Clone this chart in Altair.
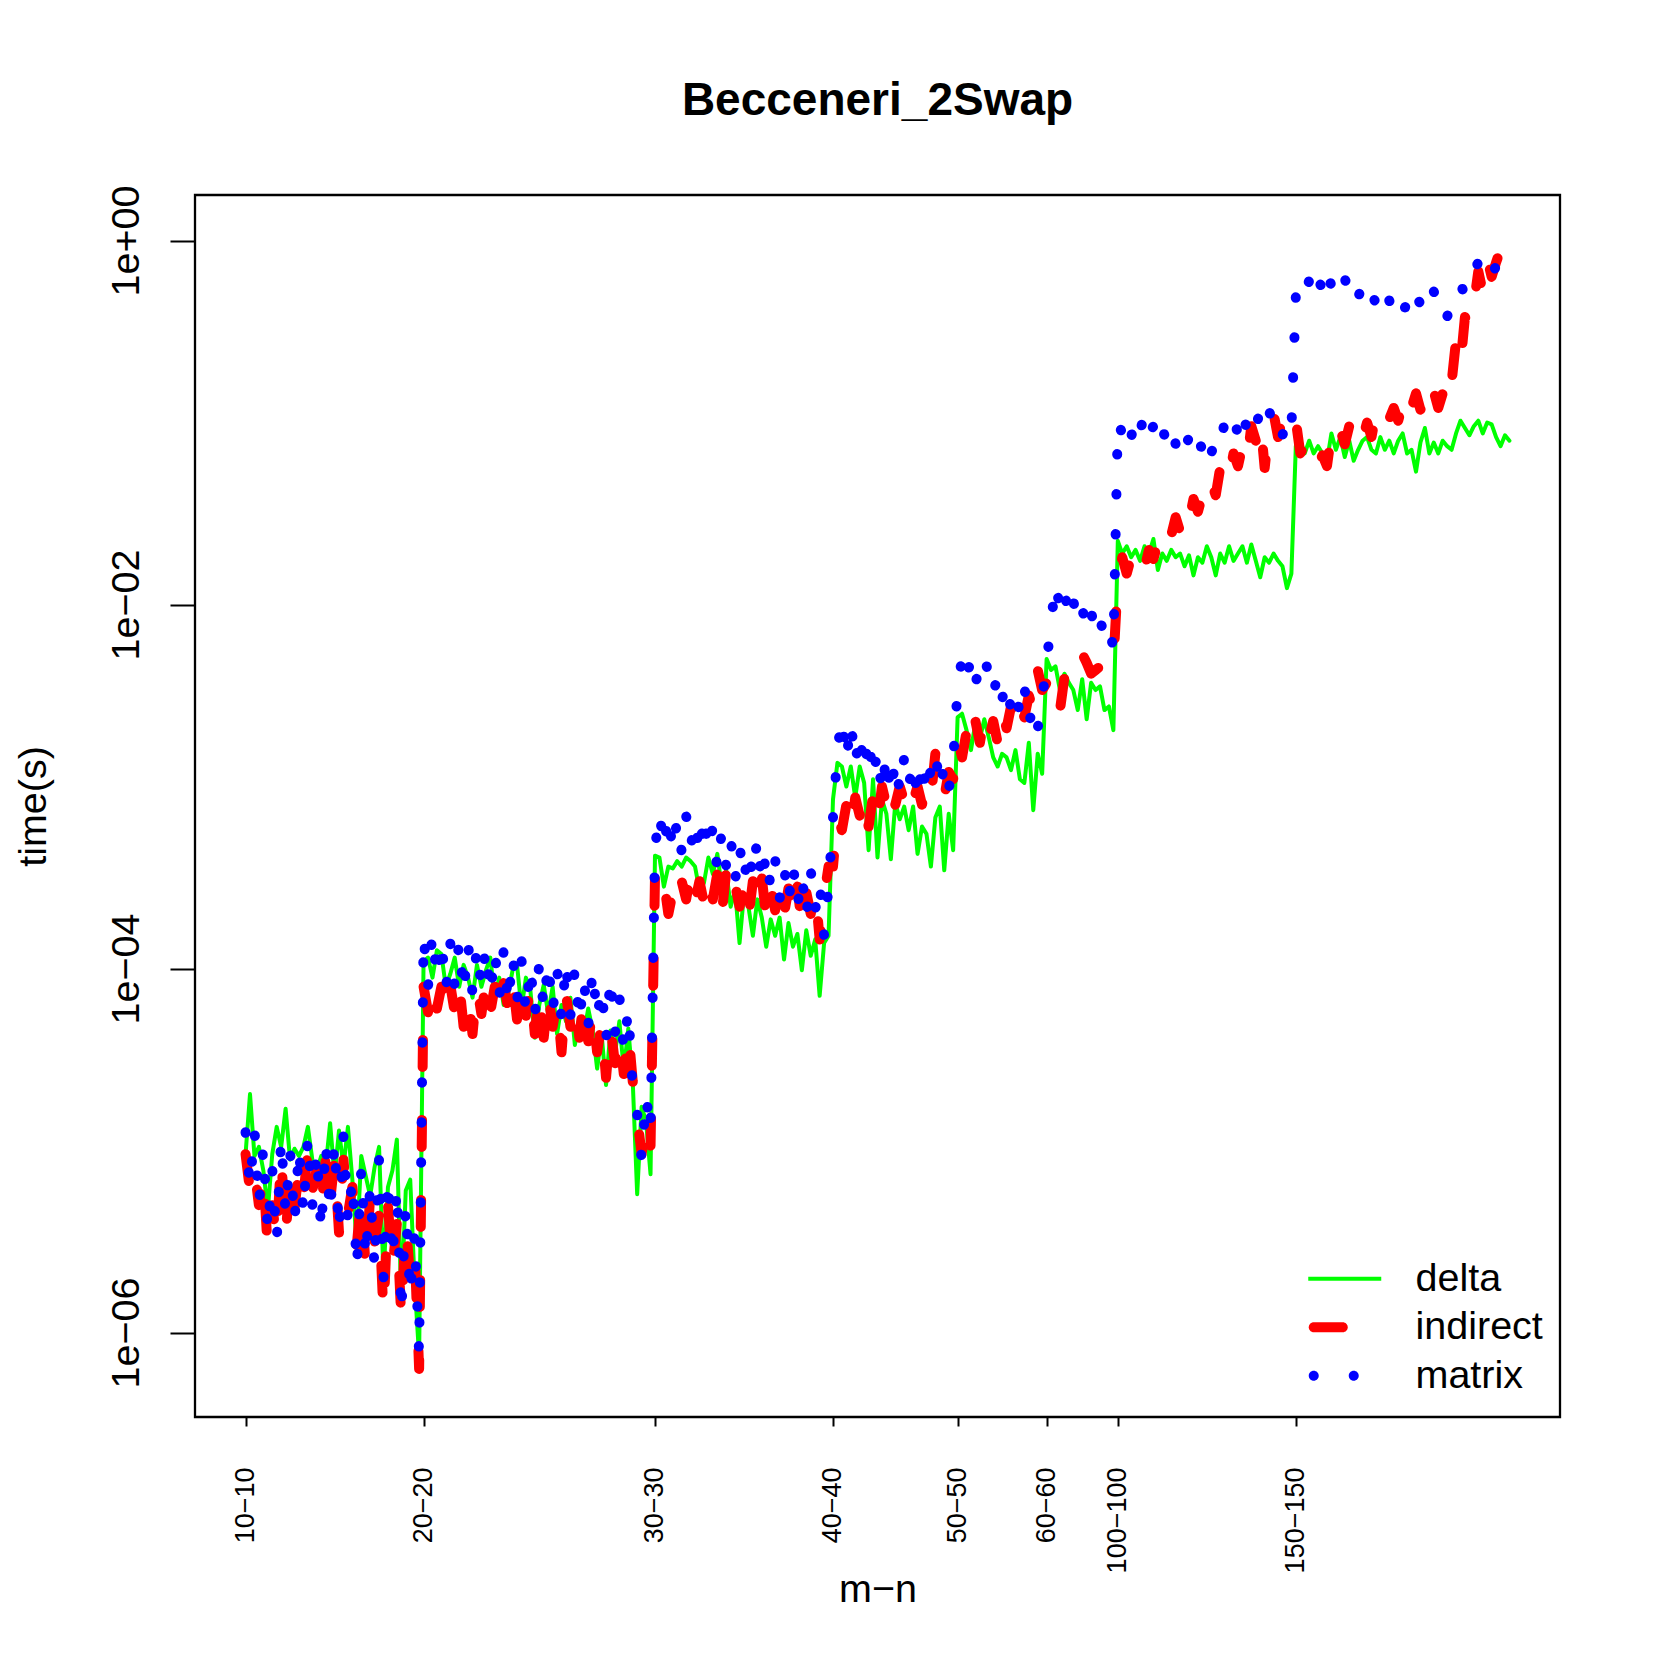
import altair as alt
import pandas as pd

# ---------------- data (log10 of time in seconds) ----------------
x_tick_vals = [0, 40, 92, 132, 160, 180, 196, 236]
x_tick_labels = ["10\u221210", "20\u221220", "30\u221230", "40\u221240", "50\u221250",
                 "60\u221260", "100\u2212100", "150\u2212150"]
y_tick_vals = [1e-6, 1e-4, 1e-2, 1.0]
y_tick_labels = ["1e\u221206", "1e\u221204", "1e\u221202", "1e+00"]
series_names = ["delta", "indirect", "matrix"]
series_colors = ["#00ff00", "#ff0000", "#0000ff"]

delta_log = [
    # 10-10 .. 20-20
    -5.02, -4.69, -5.03, -4.98, -5.11, -5.33, -5.02, -4.87, -4.98, -4.77,
    -5.05, -4.99, -5.03, -4.98, -4.87, -5.05, -5.11, -5.03, -5.09, -4.85,
    -5.14, -4.89, -5.09, -4.87, -5.16, -5.53, -5.03, -5.14, -5.25, -5.09,
    -4.98, -5.69, -5.20, -5.11, -4.94, -5.84, -5.22, -5.16, -5.73, -6.13,
    # 20-20 .. 30-30
    -3.96, -3.94, -4.05, -3.90, -3.92, -4.10, -4.03, -3.94, -4.10, -3.98,
    -4.05, -4.16, -3.98, -4.10, -4.01, -3.94, -4.16, -4.05, -4.20, -4.14,
    -4.01, -3.98, -4.22, -4.05, -4.12, -4.38, -4.20, -4.09, -4.25, -4.10,
    -4.36, -4.20, -4.29, -4.16, -4.42, -4.27, -4.36, -4.22, -4.34, -4.55,
    -4.36, -4.64, -4.34, -4.47, -4.29, -4.56, -4.33, -4.62, -5.24, -4.76,
    -4.84, -5.13,
    # 30-30 .. 40-40
    -3.38, -3.39, -3.55, -3.44, -3.45, -3.41, -3.44, -3.39, -3.41, -3.44,
    -3.57, -3.53, -3.39, -3.48, -3.37, -3.55, -3.46, -3.66, -3.57, -3.86,
    -3.59, -3.66, -3.82, -3.62, -3.72, -3.88, -3.73, -3.82, -3.72, -3.95,
    -3.75, -3.88, -3.81, -4.01, -3.79, -3.93, -3.84, -4.15, -3.86, -3.82,
    # 40-40 .. 50-50
    -3.07, -2.87, -2.89, -3.00, -2.89, -3.06, -2.89, -2.98, -3.35, -2.96,
    -3.39, -3.07, -3.15, -3.40, -3.09, -3.18, -3.11, -3.24, -3.11, -3.37,
    -3.22, -3.26, -3.44, -3.17, -3.11, -3.46, -3.15, -3.35,
    # 50-50 .. 60-60
    -2.62, -2.60, -2.69, -2.80, -2.65, -2.74, -2.63, -2.73, -2.84, -2.89,
    -2.82, -2.84, -2.91, -2.80, -2.96, -2.98, -2.76, -3.13, -2.82, -2.93,
    # 60-60 .. 100-100
    -2.30, -2.36, -2.34, -2.47, -2.38, -2.43, -2.47, -2.58, -2.41, -2.63,
    -2.43, -2.47, -2.45, -2.58, -2.56, -2.69,
    # 100-100 .. 150-150
    -1.65, -1.72, -1.68, -1.74, -1.70, -1.76, -1.68, -1.72, -1.64, -1.81,
    -1.72, -1.76, -1.70, -1.74, -1.72, -1.79, -1.73, -1.84, -1.74, -1.77,
    -1.68, -1.74, -1.84, -1.72, -1.77, -1.68, -1.76, -1.72, -1.68, -1.77,
    -1.67, -1.76, -1.85, -1.74, -1.77, -1.72, -1.76, -1.79, -1.91, -1.83,
    # 150-150 .. end
    -1.13, -1.10, -1.17, -1.10, -1.17, -1.13, -1.17, -1.21, -1.06, -1.15,
    -1.08, -1.19, -1.10, -1.21, -1.15, -1.10, -1.08, -1.15, -1.17, -1.08,
    -1.15, -1.10, -1.17, -1.10, -1.06, -1.17, -1.15, -1.27, -1.11, -1.03,
    -1.17, -1.11, -1.17, -1.10, -1.13, -1.15, -1.06, -0.99, -1.03, -1.07,
    -1.02, -0.99, -1.06, -1.00, -1.01, -1.08, -1.13, -1.07, -1.10,
]

indirect_log = [
    # 10-10 .. 20-20
    -5.02, -5.22, -5.10, -5.30, -5.12, -5.55, -5.30, -5.50, -5.02, -5.48,
    -5.12, -5.32, -5.10, -5.25, -5.00, -5.22, -5.10, -5.32, -5.05, -5.28,
    -5.05, -5.45, -5.05, -5.35, -5.20, -5.52, -5.25, -5.65, -5.25, -5.50,
    -5.35, -5.90, -5.30, -5.65, -5.40, -5.92, -5.40, -5.70, -5.55, -6.20,
    # 20-20 .. 30-30
    -4.10, -4.24, -4.08, -4.22, -4.10, -4.26, -4.09, -4.24, -4.08, -4.32,
    -4.15, -4.36, -4.10, -4.25, -4.07, -4.24, -4.10, -4.27, -4.08, -4.22,
    -4.06, -4.28, -4.08, -4.26, -4.10, -4.36, -4.12, -4.38, -4.14, -4.32,
    -4.18, -4.46, -4.14, -4.32, -4.18, -4.38, -4.16, -4.40, -4.22, -4.46,
    -4.30, -4.60, -4.32, -4.52, -4.36, -4.58, -4.34, -4.62, -4.82, -5.02,
    -4.84, -4.98,
    # 30-30 .. 40-40
    -3.50, -3.60, -3.52, -3.70, -3.58, -3.66, -3.52, -3.62, -3.48, -3.63,
    -3.52, -3.64, -3.50, -3.62, -3.48, -3.70, -3.47, -3.62, -3.54, -3.66,
    -3.55, -3.72, -3.52, -3.66, -3.50, -3.72, -3.55, -3.68, -3.53, -3.70,
    -3.56, -3.74, -3.55, -3.76, -3.58, -3.70, -3.56, -3.84, -3.60, -3.44,
    # 40-40 .. 50-50
    -3.44, -3.16, -3.24, -3.10, -3.24, -3.06, -3.16, -3.04, -3.22, -3.05,
    -3.20, -3.00, -3.10, -2.98, -3.10, -3.00, -3.08, -2.98, -3.08, -3.00,
    -3.10, -2.98, -3.06, -2.82, -2.98, -3.06, -2.92, -2.96,
    # 50-50 .. 60-60
    -2.74, -2.84, -2.70, -2.80, -2.64, -2.76, -2.62, -2.74, -2.64, -2.76,
    -2.58, -2.68, -2.56, -2.66, -2.54, -2.62, -2.50, -2.58, -2.36, -2.47,
    # 60-60 .. 100-100
    -2.43, -2.51, -2.63, -2.58, -2.40, -2.41, -2.45, -2.38, -2.27, -2.32,
    -2.38, -2.36, -2.34, -2.36, -2.29, -2.32,
    # 100-100 .. 150-150
    -1.87, -1.74, -1.83, -1.74, -1.82, -1.76, -1.80, -1.70, -1.75, -1.66,
    -1.74, -1.64, -1.62, -1.52, -1.60, -1.48, -1.54, -1.42, -1.49, -1.40,
    -1.45, -1.33, -1.40, -1.25, -1.20, -1.30, -1.17, -1.24, -1.13, -1.22,
    -1.02, -1.10, -0.98, -1.25, -1.02, -0.95, -1.08, -0.98, -1.04, -0.96,
    # 150-150 .. end
    -0.99, -1.17, -1.13, -1.20, -1.15, -1.23, -1.18, -1.24, -1.06, -1.12,
    -1.04, -1.12, -1.02, -1.10, -1.03, -1.09, -1.00, -1.08, -0.95, -0.88,
    -0.93, -0.98, -0.92, -0.99, -0.90, -0.82, -0.92, -0.84, -0.93, -0.85,
    -0.93, -0.83, -0.92, -0.84, -0.93, -0.78, -0.55, -0.68, -0.42, -0.48,
    -0.35, -0.17, -0.28, -0.10, -0.20, -0.12, -0.05, 0.00, -0.03,
]

matrix_log = [
    # 10-10 .. 20-20
    -4.90, -5.20, -4.88, -5.30, -4.98, -5.45, -5.10, -5.50, -4.93, -5.35,
    -5.00, -5.40, -4.98, -5.35, -4.92, -5.30, -5.00, -5.45, -4.95, -5.35,
    -4.95, -5.45, -4.92, -5.40, -5.15, -5.65, -5.10, -5.60, -5.20, -5.65,
    -5.05, -5.70, -5.15, -5.60, -5.20, -5.90, -5.30, -5.80, -5.45, -6.12,
    # 20-20 .. 30-30
    -3.82, -4.10, -3.80, -4.06, -3.84, -4.12, -3.86, -4.10, -3.85, -4.14,
    -3.86, -4.14, -3.88, -4.10, -3.88, -4.15, -3.90, -4.16, -3.90, -4.20,
    -3.92, -4.18, -3.95, -4.25, -3.98, -4.26, -3.97, -4.22, -3.96, -4.24,
    -4.00, -4.28, -3.96, -4.26, -4.00, -4.30, -4.05, -4.32, -4.00, -4.28,
    -4.10, -4.40, -4.04, -4.36, -4.15, -4.45, -4.22, -4.66, -4.80, -5.05,
    -4.70, -4.90,
    # 30-30 .. 40-40
    -3.34, -3.14, -3.34, -3.15, -3.36, -3.18, -3.36, -3.16, -3.34, -3.18,
    -3.38, -3.15, -3.36, -3.22, -3.46, -3.25, -3.44, -3.28, -3.52, -3.32,
    -3.52, -3.34, -3.50, -3.28, -3.54, -3.36, -3.56, -3.40, -3.62, -3.44,
    -3.64, -3.42, -3.66, -3.48, -3.72, -3.46, -3.68, -3.52, -3.82, -3.55,
    # 40-40 .. 50-50
    -3.17, -2.80, -2.62, -2.86, -2.64, -2.88, -2.70, -2.92, -2.72, -2.96,
    -2.80, -3.04, -2.82, -3.05, -2.85, -3.03, -2.84, -3.00, -2.86, -3.08,
    -2.85, -3.05, -2.90, -2.80, -3.02, -2.88, -3.02, -2.86,
    # 50-50 .. 60-60
    -2.46, -2.29, -2.40, -2.30, -2.44, -2.32, -2.27, -2.40, -2.50, -2.38,
    -2.52, -2.42, -2.58, -2.48, -2.60, -2.45, -2.66, -2.55, -2.68, -2.52,
    # 60-60 .. 100-100
    -2.32, -2.10, -1.88, -2.02, -1.92, -2.08, -1.98, -2.10, -2.02, -2.14,
    -2.04, -2.16, -2.08, -2.18, -2.12, -2.24,
    # 100-100 .. 150-150
    -1.00, -1.06, -0.98, -1.08, -0.97, -1.05, -0.95, -1.06, -1.02, -1.12,
    -1.04, -1.10, -1.02, -1.12, -1.06, -1.15, -1.08, -1.16, -1.09, -1.15,
    -1.07, -1.17, -1.08, -1.12, -1.00, -1.05, -0.98, -1.06, -0.94, -1.04,
    -0.98, -1.04, -0.92, -1.00, -0.94, -1.00, -0.96, -1.07, -0.98, -1.04,
    # 150-150 .. end
    -0.30, -0.24, -0.30, -0.22, -0.29, -0.20, -0.28, -0.17, -0.25, -0.19,
    -0.26, -0.21, -0.28, -0.23, -0.31, -0.25, -0.32, -0.28, -0.35, -0.30,
    -0.38, -0.33, -0.39, -0.34, -0.40, -0.34, -0.39, -0.30, -0.35, -0.28,
    -0.34, -0.28, -0.36, -0.33, -0.42, -0.33, -0.30, -0.24, -0.30, -0.22,
    -0.17, -0.12, -0.18, -0.14, -0.19, -0.14, -0.18, -0.15, -0.17,
]

assert len(delta_log) == len(indirect_log) == len(matrix_log) == 285, (
    len(delta_log), len(indirect_log), len(matrix_log))


def frame(name, logs):
    return pd.DataFrame({
        "idx": list(range(len(logs))),
        "series": name,
        "time": [10.0 ** v for v in logs],
    })


FONT = "Liberation Sans"
N = len(delta_log)
x_ext = 0.04 * (N - 1)

x_label_expr = " : ".join(
    f"datum.value == {v} ? '{l}'" for v, l in zip(x_tick_vals, x_tick_labels)) + " : ''"
y_label_expr = " : ".join(
    f"abs(log(datum.value) - log({v})) < 0.01 ? '{l}'" for v, l in zip(y_tick_vals, y_tick_labels)) + " : ''"

x_enc = alt.X(
    "idx:Q",
    scale=alt.Scale(domain=[-x_ext, (N - 1) + x_ext], nice=False, zero=False),
    axis=alt.Axis(
        values=x_tick_vals, labelExpr=x_label_expr, labelAngle=270, labelAlign="right",
        labelBaseline="middle", labelFontSize=27, labelFont=FONT, labelColor="black",
        labelPadding=41, labelOverlap=False, labelFlush=False, tickSize=9, tickWidth=2,
        tickColor="black", domain=False, grid=False, title="m\u2212n", titleFont=FONT,
        titleFontSize=39.5, titleFontWeight="normal", titleColor="black",
        titleX=682.5, titleY=184, titleBaseline="alphabetic", titleAlign="center",
    ),
)
y_enc = alt.Y(
    "time:Q",
    scale=alt.Scale(type="log", domain=[10 ** -6.464, 10 ** 0.25], nice=False),
    axis=alt.Axis(
        values=y_tick_vals, labelExpr=y_label_expr, labelAngle=270, labelAlign="center",
        labelBaseline="alphabetic", labelFontSize=39.5, labelFont=FONT, labelColor="black",
        labelPadding=32, labelOverlap=False, labelFlush=False, tickSize=25, tickWidth=2,
        tickColor="black", domain=False, grid=False, title="time(s)", titleFont=FONT,
        titleFontSize=39.5, titleFontWeight="normal", titleColor="black", titleAngle=270,
        titleX=-150, titleY=611, titleBaseline="alphabetic", titleAlign="center",
    ),
)

delta_layer = alt.Chart(frame("delta", delta_log)).mark_line(
    color=series_colors[0], strokeWidth=4, strokeJoin="round", strokeCap="round"
).encode(x=x_enc, y=y_enc)

indirect_layer = alt.Chart(frame("indirect", indirect_log)).mark_line(
    color=series_colors[1], strokeWidth=10, strokeDash=[27, 53], strokeJoin="round",
    strokeCap="round"
).encode(x=x_enc, y=y_enc)

matrix_layer = alt.Chart(frame("matrix", matrix_log)).mark_line(
    color=series_colors[2], strokeWidth=10, strokeDash=[0.5, 39.5], strokeJoin="round",
    strokeCap="round"
).encode(x=x_enc, y=y_enc)

# legend symbols (custom paths, unit = 5 px)
legend_paths = [
    "M-7.3,-0.4 L7.3,-0.4 L7.3,0.4 L-7.3,0.4 Z",
    "M-6.2,-1 L-0.4,-1 A1,1 0 0 1 -0.4,1 L-6.2,1 A1,1 0 0 1 -6.2,-1 Z",
    "M-7.2,0 A1,1 0 1 0 -5.2,0 A1,1 0 1 0 -7.2,0 Z M0.8,0 A1,1 0 1 0 2.8,0 A1,1 0 1 0 0.8,0 Z",
]
legend_cfg = dict(
    title=None, orient="none", legendX=1130, legendY=1064, symbolSize=100,
    labelFontSize=39.5, labelFont=FONT, labelColor="black", labelOffset=51,
    rowPadding=7.5, symbolStrokeWidth=0, padding=0, labelLimit=0, symbolOpacity=1,
)
legend_layer = alt.Chart(frame("delta", delta_log)).transform_filter(
    "datum.series == 'none'"
).mark_point(filled=True, opacity=1).encode(
    x=x_enc, y=y_enc,
    color=alt.Color("series:N", scale=alt.Scale(domain=series_names, range=series_colors),
                    legend=alt.Legend(**legend_cfg)),
    shape=alt.Shape("series:N", scale=alt.Scale(domain=series_names, range=legend_paths),
                    legend=alt.Legend(**legend_cfg)),
)

chart = alt.layer(delta_layer, indirect_layer, matrix_layer, legend_layer).properties(
    width=1365, height=1222,
    padding={"left": 187, "top": 187, "right": 93, "bottom": 236},
    autosize=alt.AutoSizeParams(type="none"),
    background="white",
    title=alt.TitleParams(
        text="Becceneri_2Swap", fontSize=46, font=FONT, fontWeight="bold",
        anchor="middle", offset=24, baseline="alphabetic", color="black",
    ),
).configure_view(stroke="black", strokeWidth=2.3)

chart.save("out.html", embed_options={"renderer": "svg", "actions": False})
